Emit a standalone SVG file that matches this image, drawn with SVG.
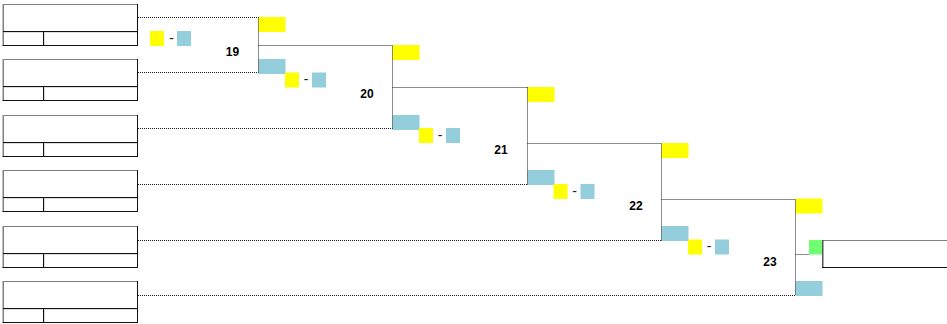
<svg xmlns="http://www.w3.org/2000/svg" width="947" height="324" viewBox="0 0 947 324">
<defs>
<style>
.conn line{stroke:#1a1a1a;stroke-width:1;stroke-dasharray:1,1;fill:none}
.y{fill:#FFFF00}
.b{fill:#94CDDB}
.g{fill:#70FF70}
.bx{fill:#fff}
.gt{stroke:#808080;stroke-width:1}
.gl{stroke:#808080;stroke-width:1.5}
.dk{stroke:#111;stroke-width:1}
.lbl{font-family:"Liberation Sans",Arial,sans-serif;font-weight:bold;font-size:12px;fill:#000;text-anchor:middle}
.dash{font-family:"Liberation Sans",Arial,sans-serif;font-size:14px;fill:#222;text-anchor:middle}
</style>
<g id="entry">
<rect class="bx" x="3" y="4.5" width="134" height="41"/>
<line class="gt" x1="3" y1="4.5" x2="137.5" y2="4.5"/>
<line class="gl" x1="3.25" y1="4" x2="3.25" y2="45.5"/>
<line class="dk" x1="137.5" y1="4" x2="137.5" y2="46"/>
<line class="dk" x1="2.5" y1="45.5" x2="138" y2="45.5"/>
<line class="dk" x1="3" y1="31.5" x2="137.5" y2="31.5"/>
<line class="dk" x1="43.5" y1="31.5" x2="43.5" y2="45.5"/>
<line stroke="#ddd" x1="4" y1="32.5" x2="43" y2="32.5"/>
<line stroke="#ddd" x1="44" y1="32.5" x2="137" y2="32.5"/>
<line stroke="#ddd" x1="44.5" y1="32.5" x2="44.5" y2="45"/>
</g>
</defs>

<g id="entries">
<use id="entry1" href="#entry" x="0" y="0"/>
<use id="entry2" href="#entry" x="0" y="55"/>
<use id="entry3" href="#entry" x="0" y="111"/>
<use id="entry4" href="#entry" x="0" y="166"/>
<use id="entry5" href="#entry" x="0" y="222"/>
<use id="entry6" href="#entry" x="0" y="277"/>
</g>

<g id="slots">
<g id="m19-slots"><rect class="y" x="258.5" y="17" width="27" height="15"/><rect class="b" x="258.5" y="59" width="27" height="15"/></g>
<g id="m20-slots"><rect class="y" x="392.5" y="45" width="27" height="15"/><rect class="b" x="392.5" y="115" width="27" height="15"/></g>
<g id="m21-slots"><rect class="y" x="527.5" y="87" width="27" height="15"/><rect class="b" x="527.5" y="170" width="27" height="15"/></g>
<g id="m22-slots"><rect class="y" x="661.5" y="143" width="27" height="15"/><rect class="b" x="661.5" y="226" width="27" height="15"/></g>
<g id="m23-slots"><rect class="y" x="795.5" y="198.5" width="27" height="15"/><rect class="b" x="795.5" y="281" width="27" height="15"/></g>
</g>

<g id="scores">
<g id="score1"><rect class="y" x="150" y="31" width="14" height="15"/><text class="dash" x="171.5" y="42.5">-</text><rect class="b" x="177" y="31" width="14" height="15"/></g>
<g id="score2"><rect class="y" x="285" y="72.5" width="14" height="15"/><text class="dash" x="306" y="84">-</text><rect class="b" x="312" y="72.5" width="14" height="15"/></g>
<g id="score3"><rect class="y" x="419" y="128" width="14" height="15"/><text class="dash" x="440" y="139.5">-</text><rect class="b" x="446" y="128" width="14" height="15"/></g>
<g id="score4"><rect class="y" x="553.5" y="184" width="14" height="15"/><text class="dash" x="574.5" y="195.5">-</text><rect class="b" x="580.5" y="184" width="14" height="15"/></g>
<g id="score5"><rect class="y" x="688" y="239.5" width="14" height="15"/><text class="dash" x="709" y="251">-</text><rect class="b" x="715" y="239.5" width="14" height="15"/></g>
</g>

<g class="conn" id="connectors">
<line x1="138" y1="17.5" x2="258.5" y2="17.5"/>
<line x1="138" y1="72.5" x2="258.5" y2="72.5"/>
<line x1="258.5" y1="17.5" x2="258.5" y2="72.5"/>
<line x1="258.5" y1="45.5" x2="392.5" y2="45.5"/>
<line x1="138" y1="128.5" x2="392.5" y2="128.5"/>
<line x1="392.5" y1="45.5" x2="392.5" y2="128.5"/>
<line x1="392.5" y1="87.5" x2="527.5" y2="87.5"/>
<line x1="138" y1="184.5" x2="527.5" y2="184.5"/>
<line x1="527.5" y1="87.5" x2="527.5" y2="184.5"/>
<line x1="527.5" y1="143.5" x2="661.5" y2="143.5"/>
<line x1="138" y1="240.5" x2="661.5" y2="240.5"/>
<line x1="661.5" y1="143.5" x2="661.5" y2="240.5"/>
<line x1="661.5" y1="199.5" x2="795.5" y2="199.5"/>
<line x1="138" y1="295.5" x2="795.5" y2="295.5"/>
<line x1="795.5" y1="199.5" x2="795.5" y2="295.5"/>
<line x1="795.5" y1="254.5" x2="809" y2="254.5"/>
</g>

<g id="labels">
<text class="lbl" x="232.5" y="56">19</text>
<text class="lbl" x="367" y="98">20</text>
<text class="lbl" x="501" y="154">21</text>
<text class="lbl" x="636" y="210">22</text>
<text class="lbl" x="770" y="266">23</text>
</g>

<g id="winner">
<rect class="g" x="809" y="240" width="13.5" height="14.5"/>
<rect class="bx" x="822.5" y="240.5" width="126" height="27"/>
<line class="gt" x1="822" y1="240.5" x2="948" y2="240.5"/>
<line stroke="#555" stroke-width="1.5" x1="822.75" y1="240" x2="822.75" y2="268"/>
<line class="dk" x1="822" y1="267.5" x2="948" y2="267.5"/>
</g>
</svg>
